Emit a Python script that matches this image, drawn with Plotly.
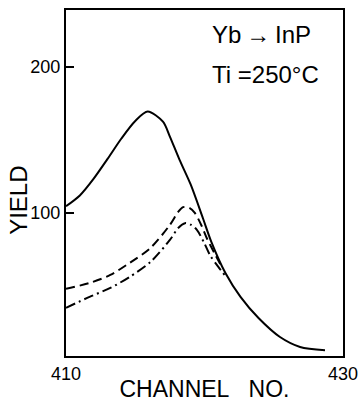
import plotly.graph_objects as go

# Solid curve
ch_solid = [410, 411, 412, 413, 414, 415, 415.9, 417, 417.5, 418.2, 419, 419.9, 420.5, 421.5, 422.6, 423.9, 425.45, 426.9, 428.7]
y_solid = [104.6, 112, 123.5, 137, 151, 163, 169.4, 162.5, 152.3, 136.3, 119.5, 96, 80, 59, 42.5, 28, 15, 8.2, 6]

# Dashed curve
ch_dash = [410, 411.7, 413.2, 414.6, 416.1, 417.5, 418.1, 418.45, 418.9, 419.3, 419.8, 420.2, 420.8, 421.3]
y_dash = [48, 52, 57.5, 65.8, 76, 91.8, 100.7, 104, 103.5, 100, 91, 82, 71, 62]

# Dash-dot curve
ch_dd = [410, 411.7, 413.2, 414.6, 416.1, 417.5, 418.1, 418.6, 419.0, 419.45, 420.0, 420.4, 421.0, 421.5]
y_dd = [35, 42.5, 48.6, 56.2, 66.4, 81.5, 89.7, 93, 92, 88.4, 79, 71, 63, 57]

x_ticks = [410, 430]
y_ticks = [100, 200]

FONT = "Liberation Sans, Arial, Helvetica, sans-serif"

fig = go.Figure()
fig.add_trace(go.Scatter(x=ch_dash, y=y_dash, mode="lines", line=dict(color="black", width=2, dash="9px,5px", shape="spline", smoothing=0.8), showlegend=False))
fig.add_trace(go.Scatter(x=ch_dd, y=y_dd, mode="lines", line=dict(color="black", width=2, dash="10px,4px,2px,4px", shape="spline", smoothing=0.8), showlegend=False))
fig.add_trace(go.Scatter(x=ch_solid, y=y_solid, mode="lines", line=dict(color="black", width=2, shape="spline", smoothing=0.8), showlegend=False))

fig.update_layout(
    width=359, height=402,
    margin=dict(l=66, r=16, t=10, b=46),
    paper_bgcolor="white", plot_bgcolor="white",
    font=dict(family=FONT, color="black", size=18),
    xaxis=dict(range=[410, 430], tickvals=x_ticks, ticktext=[str(v) for v in x_ticks],
               ticks="", showgrid=False, zeroline=False, showline=True, linecolor="black",
               linewidth=2, mirror=True, tickfont=dict(size=18), automargin=False,
               title=dict(text="CHANNEL&nbsp;&nbsp;&nbsp;NO.", font=dict(size=23), standoff=0)),
    yaxis=dict(range=[2, 239], tickvals=y_ticks, ticktext=[str(v) for v in y_ticks],
               ticks="inside", ticklen=8, tickwidth=2, tickcolor="black",
               showgrid=False, zeroline=False, showline=True, linecolor="black",
               linewidth=2, mirror=True, tickfont=dict(size=18), automargin=False),
    annotations=[
        dict(x=-0.17, y=0.451, xref="paper", yref="paper", xanchor="center", yanchor="middle",
             text="YIELD", textangle=-90, showarrow=False, font=dict(size=24)),
        dict(x=0.52, y=0.975, xref="paper", yref="paper", xanchor="left", yanchor="top",
             text="Yb\u2009\u2192\u2009InP", showarrow=False, font=dict(size=24)),
        dict(x=0.52, y=0.858, xref="paper", yref="paper", xanchor="left", yanchor="top",
             text="Ti =250°C", showarrow=False, font=dict(size=24)),
    ],
)

fig.write_html("out.html", config={"displayModeBar": False},
               post_script="document.body.style.margin='0';document.body.style.overflow='hidden';")
